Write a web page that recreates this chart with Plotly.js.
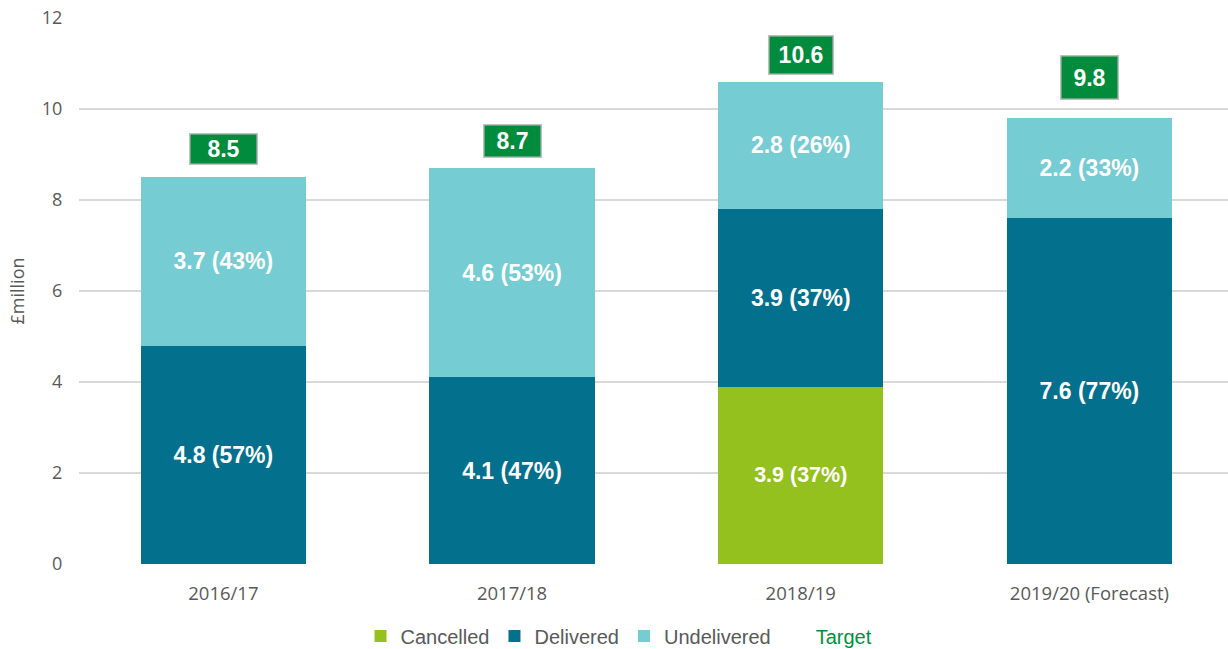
<!DOCTYPE html>
<html>
<head>
<meta charset="utf-8">
<script src="https://cdn.plot.ly/plotly-3.0.1.min.js"></script>
<style>html,body{margin:0;padding:0;background:#fff;}#chart{width:1228px;height:649px;}</style>
</head>
<body>
<div id="chart"></div>
<script>
const categories = ["2016/17", "2017/18", "2018/19", "2019/20 (Forecast)"];
const cancelled = [null, null, 3.9, null];
const cancelledPct = [null, null, 37, null];
const delivered = [4.8, 4.1, 3.9, 7.6];
const deliveredPct = [57, 47, 37, 77];
const undelivered = [3.7, 4.6, 2.8, 2.2];
const undeliveredPct = [43, 53, 26, 33];
const target = [8.5, 8.7, 10.6, 9.8];
const yTicks = [0, 2, 4, 6, 8, 10, 12];

function labels(vals, pcts) {
  return vals.map((v, i) => v == null ? "" : v.toFixed(1) + " (" + pcts[i] + "%)");
}

const barCommon = {
  type: "bar",
  x: categories,
  width: 0.572,
  textposition: "inside",
  insidetextanchor: "middle",
  textangle: 0,
  constraintext: "none",
  hoverinfo: "skip",
  textfont: {family: "Liberation Sans, Arial, sans-serif", size: 23, color: "#ffffff", weight: "bold"}
};

const traces = [
  Object.assign({}, barCommon, {
    name: "Cancelled", y: cancelled, text: labels(cancelled, cancelledPct),
    marker: {color: "#95C11F"},
    textfont: Object.assign({}, barCommon.textfont, {size: 21.5})
  }),
  Object.assign({}, barCommon, {
    name: "Delivered", y: delivered, text: labels(delivered, deliveredPct),
    marker: {color: "#03708D"}
  }),
  Object.assign({}, barCommon, {
    name: "Undelivered", y: undelivered, text: labels(undelivered, undeliveredPct),
    marker: {color: "#75CCD2"}
  }),
  {
    type: "scatter", mode: "markers", name: "Target",
    x: categories, y: target,
    marker: {color: "rgba(0,0,0,0)", size: 1},
    hoverinfo: "skip",
    showlegend: true
  }
];

// box styling per target label (layout only)
const boxShift = [28, 27, 27, 41];
const boxW = [62, 52, 59, 52];
const boxH = [25, 27, 33, 38];
const annotations = target.map((t, i) => ({
  x: categories[i], y: t, xref: "x", yref: "y",
  text: "<b>" + t.toFixed(1) + "</b>",
  showarrow: false, yshift: boxShift[i],
  font: {family: "Liberation Sans, Arial, sans-serif", size: 23, color: "#ffffff"},
  bgcolor: "#008C3C", bordercolor: "#BFBFBF", borderwidth: 1.5,
  borderpad: 2, width: boxW[i], height: boxH[i]
}));

const layout = {
  width: 1228, height: 649,
  margin: {l: 79, r: 0, t: 18, b: 85, autoexpand: false},
  paper_bgcolor: "#ffffff", plot_bgcolor: "#ffffff",
  barmode: "stack",
  font: {family: "Open Sans, Liberation Sans, sans-serif", color: "#595959"},
  xaxis: {
    type: "category", range: [-0.5, 3.48],
    tickfont: {size: 18.5, color: "#595959"},
    showgrid: false, zeroline: false, showline: false,
    ticks: "outside", ticklen: 13, tickcolor: "rgba(0,0,0,0)",
    fixedrange: true
  },
  yaxis: {
    range: [0, 12], tickvals: yTicks,
    tickfont: {size: 18, color: "#595959"},
    gridcolor: "#D9D9D9", gridwidth: 1.5,
    zeroline: false, showline: false, ticks: "outside", ticklen: 12, tickcolor: "rgba(0,0,0,0)",
    title: {text: "£million", font: {size: 18, color: "#595959"}, standoff: 12}
  },
  legend: {
    orientation: "h", x: 0.47, xanchor: "center", y: -0.096, yanchor: "top",
    font: {family: "Liberation Sans, Arial, sans-serif", size: 20, color: "#595959"},
    traceorder: "normal", itemwidth: 30
  },
  annotations: annotations,
  showlegend: true
};

Plotly.newPlot("chart", traces, layout, {displayModeBar: false, staticPlot: true}).then(() => {
  document.querySelectorAll(".legend .traces").forEach(g => {
    const t = g.querySelector("text.legendtext");
    if (t && t.textContent === "Target") t.style.fill = "#00913F";
  });
});
</script>
</body>
</html>
